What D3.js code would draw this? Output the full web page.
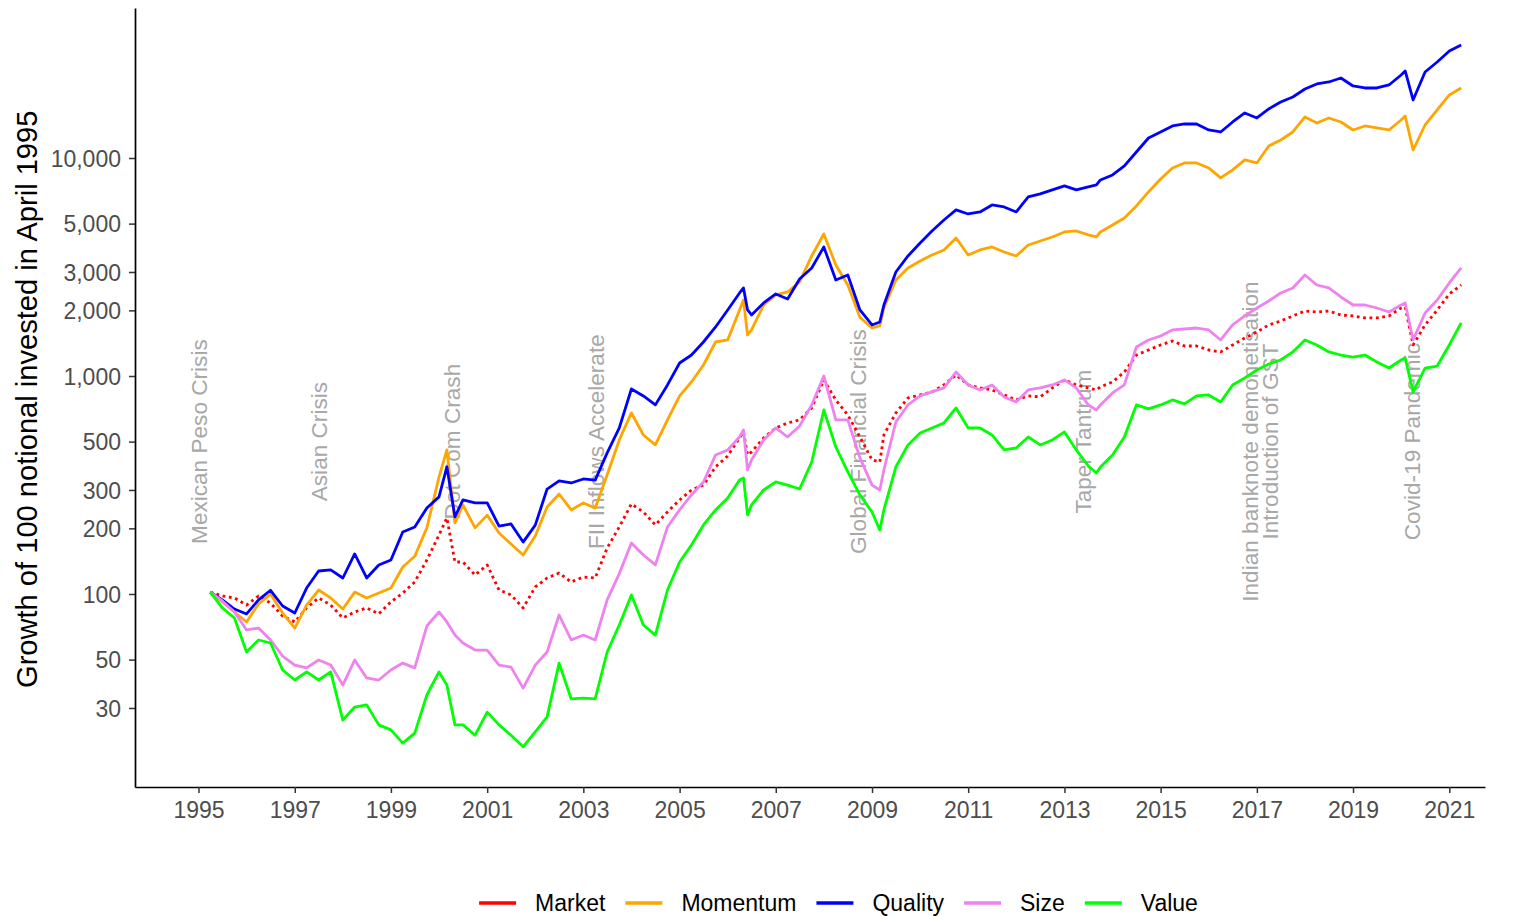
<!DOCTYPE html>
<html><head><meta charset="utf-8">
<script src="https://cdn.jsdelivr.net/npm/d3@7"></script>
<style>
body{margin:0;background:#fff}
svg{display:block}
text{font-family:"Liberation Sans",Arial,Helvetica,sans-serif}
</style>
</head><body>
<svg id="chart" width="1514" height="916"></svg>
<script>
// ---- data ----
const dates = [
"1995-04","1995-07","1995-10",
"1996-01","1996-04","1996-07","1996-10",
"1997-01","1997-04","1997-07","1997-10",
"1998-01","1998-04","1998-07","1998-10",
"1999-01","1999-04","1999-07","1999-10",
"2000-01","2000-03","2000-05","2000-07","2000-10",
"2001-01","2001-04","2001-07","2001-10",
"2002-01","2002-04","2002-07","2002-10",
"2003-01","2003-04","2003-07","2003-10",
"2004-01","2004-04","2004-07","2004-10",
"2005-01","2005-04","2005-07","2005-10",
"2006-01","2006-04","2006-05","2006-06","2006-07","2006-10",
"2007-01","2007-04","2007-07","2007-10",
"2008-01","2008-04","2008-07","2008-10",
"2009-01","2009-03","2009-04","2009-07","2009-10",
"2010-01","2010-04","2010-07","2010-10",
"2011-01","2011-04","2011-07","2011-10",
"2012-01","2012-04","2012-07","2012-10",
"2013-01","2013-04","2013-07","2013-09","2013-10",
"2014-01","2014-04","2014-07","2014-10",
"2015-01","2015-04","2015-07","2015-10",
"2016-01","2016-04","2016-07","2016-10",
"2017-01","2017-04","2017-07","2017-10",
"2018-01","2018-04","2018-07","2018-10",
"2019-01","2019-04","2019-07","2019-10",
"2020-01","2020-02","2020-04","2020-07","2020-10",
"2021-01","2021-04"];

const market = [
102,97.9,95.9,
89,97.9,90.9,79.3,
74.4,86.3,95.9,89,
77.6,82.7,86.3,81,
91.9,101,113.5,143.2,
186.5,223.2,140.2,140.2,122.2,
135.9,104.3,99,86.3,
107.7,118.4,124.8,113.5,
119.7,118.4,162.6,203,
258.8,237.8,207.3,237.8,
270,300,316,383,
429.7,519.7,553.8,434.3,448.3,519.7,
577.7,609,628.6,713.6,
959,776,662.7,525,
412,403,536.5,676.9,793,
818.6,845,909.8,1010.6,
910,881.5,863,818.6,
776.5,810,801.5,881.5,
959,910,881.5,863,890.8,
939,1043,1248,1316,
1388,1447,1373,1373,
1316,1289,1388,1494,
1592,1714,1788,1885,
1987,1966,1987,1905,
1885,1846,1846,1885,
2051,2073,1388,1714,2008,
2378,2615];

const momentum = [
102,91.9,82.7,
74.4,90,100,81.8,
69.8,89,104.3,95.9,
85.3,102,95.9,101,
106.5,133,149,201,
344,458,212,256,201,
230,190.5,169.6,151,
184.5,250.7,287.6,243,
261.5,248,352,509,
677,536,483,629,
810,939,1123,1432,
1463,2008,2232,1542,1626,2117,
2353,2429,2700,3553,
4483,3231,2615,1860,
1660,1696,2051,2757,3130,
3370,3591,3786,4297,
3591,3786,3907,3706,
3553,3991,4163,4343,
4579,4627,4436,4343,4579,
4930,5308,6026,6986,
8015,9003,9491,9491,
9003,8100,8815,9797,
9491,11352,12095,13161,
15421,14474,15259,14628,
13442,14022,13729,13442,
14940,15585,10882,14171,16605,
19457,20950];

const quality = [
102,94,85.3,
81,94,104,88.1,
81.8,106.5,127.5,128.9,
118.4,152.6,118.4,135.9,
143.2,192.5,203,248,
279,383,226,270,262,
262,205,209.5,173,
207,303,330,323,
337,333,444,578,
872,810,737,910,
1147,1248,1432,1678,
2008,2403,2534,2008,1905,2162,
2378,2256,2787,3130,
3907,2757,2907,2008,
1714,1769,2117,3000,3553,
4076,4627,5197,5777,
5537,5656,6090,5963,
5656,6627,6840,7136,
7444,7136,7365,7523,7931,
8361,9195,10654,12353,
13161,14022,14322,14322,
13442,13161,14628,16087,
15259,16782,18070,19050,
20730,21854,22321,23285,
21397,20950,20950,21625,
24034,25072,18455,24808,27573,
30971,32998];

const size = [
102,92.9,82.7,
68.4,69.8,61.5,51.9,
47.2,45.8,49.8,47.2,
38.2,49.8,41.2,40.3,
44.8,48.2,45.8,71.3,
82.7,74.4,64.8,59.6,55.3,
55.3,47.2,46.2,37,
47.2,54.2,80.1,61.5,
64.8,61.5,94,124,
171.4,151,135.9,203,
243,284.6,326.5,434.3,
457.9,525,565.6,370.6,412,508.9,
577.7,525,590,736.5,
1000,628.6,628.6,421,
316,300,370.6,615,736.5,
810,845,881.5,1043,
910,863,910,801.5,
760,863,881.5,910,
959,881.5,736.5,698.6,736.5,
836,910,1358.5,1463,
1526,1626,1643,1660,
1626,1463,1714,1885,
2051,2209,2403,2534,
2907,2615,2534,2304,
2117,2117,2051,1966,
2117,2162,1463,1946,2232,
2671,3130];

const value = [
102,86.3,77.6,
54.2,61.5,59.6,44.8,
40.3,43.9,40.3,43.9,
26.4,30.3,31,25.1,
23.8,20.7,23,34.4,
43.9,38.2,25.1,25.1,22.5,
28.7,25.1,22.5,19.9,
23.3,27.3,48.2,33,
33.3,33,54.2,72.1,
99,72.1,64.8,104.3,
140.2,167.8,207.3,242.9,
275.7,333.5,340.6,230.4,256,300,
326.5,316,303.2,403.3,
698.6,472.6,363,284.6,
237.8,196.6,242.9,382.6,482.7,
547.9,577.7,609,713.6,
577.7,577.7,536.5,457.9,
467.6,525,482.7,508.9,
553.8,457.9,386.6,359.1,382.6,
434.3,525,736.5,706,
736.5,776.5,744.4,810,
818.6,760,909.8,979.7,
1065,1135,1184,1289,
1463,1388,1289,1248,
1222,1248,1159,1088,
1184,1209.5,845,1088,1111,
1388,1751];

const seriesNames = ["Market","Momentum","Quality","Size","Value"];
const seriesValues = [market, momentum, quality, size, value];
const seriesColors = ["#FF0000","#FFA500","#0000FF","#EE82EE","#00FF00"];

const yTickValues = [30,50,100,200,300,500,1000,2000,3000,5000,10000];
const xTickYears = [1995,1997,1999,2001,2003,2005,2007,2009,2011,2013,2015,2017,2019,2021];

const eventDates = ["1995-01-05","1997-07-03","2000-04-05","2003-04-06","2008-09-15","2013-05-22","2016-11-08","2017-04-12","2020-03-23"];
const eventLabels = ["Mexican Peso Crisis","Asian Crisis","Dot Com Crash","FII Inflows Accelerate","Global Financial Crisis","Taper Tantrum","Indian banknote demonetisation","Introduction of GST","Covid-19 Pandemic"];
const eventLevel = 500;

const yTitle = "Growth of 100 notional invested in April 1995";

// ---- drawing ----
const svg = d3.select("#chart");
svg.append("rect").attr("width",1514).attr("height",916).attr("fill","#fff");

const parseM = d3.utcParse("%Y-%m");
const parseD = d3.utcParse("%Y-%m-%d");
const x = d3.scaleUtc().domain([parseD("1993-09-06"), parseD("2021-09-29")]).range([135, 1485]);
const y = d3.scaleLog().domain([13.02, 48760]).range([787, 8]);

// annotations (behind lines)
const ann = svg.append("g");
eventDates.forEach((d,i)=>{
  const px = x(parseD(d)), py = y(eventLevel);
  ann.append("text")
    .attr("transform",`translate(${px},${py}) rotate(-90)`)
    .attr("text-anchor","middle")
    .attr("dy","0.36em")
    .attr("font-size","22.6px")
    .attr("fill","#A8A8A8")
    .text(eventLabels[i]);
});

// lines
const parsedDates = dates.map(parseM);
const line = d3.line().x(d=>x(d[0])).y(d=>y(d[1]));
const lg = svg.append("g");
seriesValues.forEach((vals,i)=>{
  const n = Math.min(vals.length, parsedDates.length);
  const pts = d3.range(n).map(k=>[parsedDates[k], vals[k]]);
  const p = lg.append("path").datum(pts)
    .attr("d", line)
    .attr("fill","none")
    .attr("stroke", seriesColors[i])
    .attr("stroke-width", 2.8)
    .attr("stroke-linejoin","round");
  if (seriesNames[i] === "Market") {
    p.attr("stroke-dasharray","2.8,3.6").attr("stroke-linecap","butt");
  }
});

// axes
const yAxis = d3.axisLeft(y).tickValues(yTickValues).tickFormat(d3.format(",")).tickSizeInner(6).tickSizeOuter(0).tickPadding(8);
const gy = svg.append("g").attr("transform","translate(135,0)").call(yAxis);
const xAxis = d3.axisBottom(x).tickValues(xTickYears.map(v=>new Date(Date.UTC(v,0,1)))).tickFormat(d3.utcFormat("%Y")).tickSizeInner(6).tickSizeOuter(0).tickPadding(8);
const gx = svg.append("g").attr("transform","translate(0,787)").call(xAxis);
[gx, gy].forEach(g=>{
  g.select(".domain").attr("stroke","#000").attr("stroke-width",1.7);
  g.selectAll(".tick line").attr("stroke","#333").attr("stroke-width",1.5);
  g.selectAll(".tick text").attr("fill","#4D4D4D").attr("font-size","23px")
    .attr("font-family","'Liberation Sans',Arial,sans-serif");
});
gy.selectAll(".tick text").attr("dy","0.36em");
gx.selectAll(".tick text").attr("dy","0.74em");

// y title
svg.append("text")
  .attr("transform","translate(37,399.3) rotate(-90)")
  .attr("text-anchor","middle")
  .attr("font-size","29.1px")
  .attr("fill","#000")
  .text(yTitle);

// legend
const leg = svg.append("g");
const keyW = 37, keyGap = 19, itemGap = 20, legY = 903;
let cx = 0;
seriesNames.forEach((name,i)=>{
  const g = leg.append("g");
  g.append("line").attr("x1",cx).attr("x2",cx+keyW).attr("y1",legY).attr("y2",legY)
    .attr("stroke",seriesColors[i]).attr("stroke-width",3.4);
  const t = g.append("text").attr("x",cx+keyW+keyGap).attr("y",legY).attr("dy","0.36em")
    .attr("font-size","23px").attr("fill","#000").text(name);
  const w = t.node().getComputedTextLength();
  cx += keyW + keyGap + w + itemGap;
});
const total = cx - itemGap;
leg.attr("transform",`translate(${838.5 - total/2},0)`);
</script>
</body></html>
